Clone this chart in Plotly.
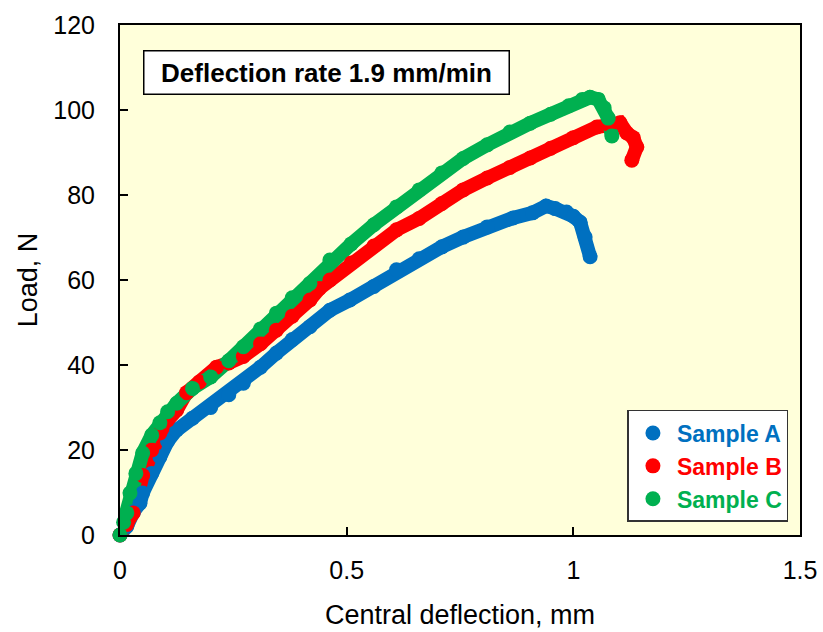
import plotly.graph_objects as go

# Sample A (blue)
xa = [0, 0.015, 0.03, 0.044, 0.05, 0.07, 0.088, 0.105, 0.125, 0.16, 0.2, 0.24, 0.272, 0.31, 0.345,
      0.38, 0.419, 0.463, 0.507, 0.56, 0.61, 0.66, 0.71, 0.757, 0.81, 0.867, 0.91, 0.94, 0.96,
      0.985, 1.0, 1.015, 1.026, 1.037]
ya = [0, 2, 5.5, 7.5, 9.9, 14.5, 18.4, 22, 24.7, 27.5, 30, 33, 35.7, 39.5, 42.8,
      46, 49, 52.9, 55.3, 58.5, 62.4, 65, 67.8, 70.1, 72.5, 74.6, 75.8, 77.4, 76.8,
      76, 75, 73.6, 70.1, 65.5]

# Sample B (red)
xb = [0, 0.015, 0.029, 0.05, 0.07, 0.088, 0.105, 0.125, 0.147, 0.175, 0.213, 0.24, 0.272, 0.31,
      0.345, 0.38, 0.419, 0.44, 0.463, 0.51, 0.56, 0.61, 0.66, 0.71, 0.757, 0.81, 0.86, 0.905,
      0.95, 1.0, 1.052, 1.08, 1.103, 1.118, 1.132, 1.14, 1.129]
yb = [0, 2.5, 5.2, 14, 20, 24, 27, 29.4, 33.5, 36, 39.5, 40.5, 42, 45,
      48.2, 51.5, 55.3, 58, 60, 64, 68, 71.8, 74.5, 78, 81.2, 84, 86.5, 88.7,
      91, 93.5, 96, 96.5, 97, 94.6, 93.5, 91.3, 88.2]

# Sample C (green)
xc = [0, 0.008, 0.015, 0.022, 0.035, 0.05, 0.07, 0.088, 0.105, 0.125, 0.16, 0.2, 0.24, 0.272,
      0.31, 0.345, 0.38, 0.419, 0.463, 0.51, 0.56, 0.61, 0.66, 0.71, 0.757, 0.81, 0.86, 0.905,
      0.95, 0.99, 1.02, 1.037, 1.055, 1.068, 1.077, 1.085]
yc = [0, 3, 5.2, 9.9, 14.5, 19.3, 23.5, 26.4, 29, 31, 34.5, 37.2, 41, 44.3,
      48.5, 52.2, 55.8, 59.2, 64.7, 68.5, 73, 77.2, 81.2, 85.2, 88.6, 91.8, 94.8, 96.9,
      99, 101, 102.5, 103, 102.5, 100.5, 98.1, 93.9]

names = ["Sample A", "Sample B", "Sample C"]
colors = ["#0070C0", "#FF0000", "#00B050"]
series = [(xa, ya), (xb, yb), (xc, yc)]

x_ticks = [0, 0.5, 1, 1.5]
x_ticklabels = ["0", "0.5", "1", "1.5"]
y_ticks = [0, 20, 40, 60, 80, 100, 120]

fig = go.Figure()
for (x, y), c in zip(series, colors):
    fig.add_trace(go.Scatter(x=x, y=y, mode="lines", line=dict(color=c, width=14),
                             showlegend=False, hoverinfo="skip", cliponaxis=False))
for (x, y), c, n in zip(series, colors, names):
    fig.add_trace(go.Scatter(x=x, y=y, mode="markers",
                             marker=dict(color=c, size=15, line=dict(width=0)),
                             name=f"<b><span style='color:{c}'>{n}</span></b>",
                             cliponaxis=False))

font_family = "Liberation Sans, Arial, sans-serif"
fig.update_layout(
    width=823, height=632,
    margin=dict(l=120, r=23, t=25, b=97),
    paper_bgcolor="white",
    plot_bgcolor="#FFFFDA",
    font=dict(family=font_family, size=25, color="black"),
    showlegend=True,
    legend=dict(x=0.983, y=0.0255, xanchor="right", yanchor="bottom",
                bgcolor="white", bordercolor="#333333", borderwidth=1.5,
                font=dict(size=23, family=font_family),
                tracegroupgap=0, itemwidth=38),
    annotations=[dict(text="<b>Deflection rate 1.9 mm/min</b>", xref="paper", yref="paper",
                      x=0.034, y=0.951, xanchor="left", yanchor="top", showarrow=False,
                      font=dict(size=26, family=font_family, color="black"),
                      width=358, height=36, align="center",
                      bgcolor="white", bordercolor="black", borderwidth=1.5, borderpad=3)],
)
fig.update_xaxes(range=[0, 1.5], tickvals=x_ticks, ticktext=x_ticklabels, automargin=False,
                 ticks="inside", ticklen=8, tickwidth=1.5, tickcolor="black",
                 showline=True, linecolor="black", linewidth=2, mirror=True,
                 showgrid=False, zeroline=False, ticklabelstandoff=12,
                 title=dict(text="Central deflection, mm", standoff=22, font=dict(size=27)))
fig.update_yaxes(range=[0, 120], tickvals=y_ticks, automargin=False,
                 ticks="inside", ticklen=8, tickwidth=1.5, tickcolor="black",
                 showline=True, linecolor="black", linewidth=2, mirror=True,
                 showgrid=False, zeroline=False, ticklabelstandoff=18,
                 title=dict(text="Load, N", standoff=8, font=dict(size=27)))

fig.write_html("out.html")
